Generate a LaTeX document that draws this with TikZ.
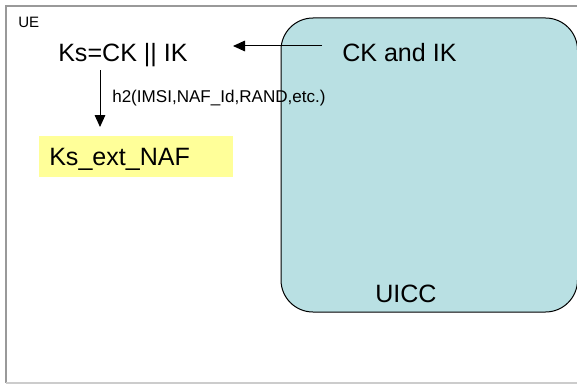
\documentclass[tikz,border=0pt]{standalone}
\usepackage{fontspec}
\setmainfont{Liberation Sans}
\usetikzlibrary{arrows.meta}
\definecolor{uiccblue}{RGB}{185,224,227}
\definecolor{keyyellow}{RGB}{255,255,153}
\tikzstyle{frame}=[draw=black!40,line width=1.1pt]
\tikzstyle{card}=[draw=black,fill=uiccblue,line width=0.75pt,rounded corners=24pt]
\tikzstyle{big}=[inner sep=0pt,font=\fontsize{18.8}{20}\selectfont]
\tikzstyle{small}=[inner sep=0pt,font=\fontsize{12.8}{14}\selectfont]
\tikzstyle{keybox}=[fill=keyyellow,inner xsep=7.5pt,inner ysep=0pt,text height=13.4pt,text depth=0pt,minimum height=30.75pt,text width=130.5pt,align=left,font=\fontsize{18.8}{20}\selectfont]
\tikzstyle{edge}=[draw,line width=0.75pt,-{Triangle[length=9pt,width=8pt]}]

\begin{document}
\begin{tikzpicture}[x=0.75pt,y=-0.75pt]
        \useasboundingbox (0,0) rectangle (577,385);
        % terminal frame
        \draw[frame] (577,6) -- (6,6) -- (6,383);
        \draw[draw=black!20,line width=1.1pt] (6,383) -- (577,383);
        \draw[card] (281,18) rectangle (577.5,312);
        \node[inner sep=0pt,anchor=base west,font=\fontsize{11.3}{13}\selectfont] (ue) at (18,28) {UE};
        \node[big,anchor=base west] (ks) at (58,61) {Ks=CK || IK};
        \node[big,anchor=base west] (ck) at (342,61) {CK and IK};
        \node[big,anchor=base west] (uicc) at (375,302) {UICC};
        \node[small,anchor=base west] (h2) at (112,102) {h2(IMSI,NAF\_Id,RAND,etc.)};
        \node[keybox,anchor=west] (ksext) at (39,156.5) {Ks\_ext\_NAF};
        \coordinate (ckout) at (322,46);
        \coordinate (ksin) at (233,46);
        \coordinate (ksout) at (100,70);
        \coordinate (extin) at (100,127);
        \draw[edge] (ckout) to (ksin);
        \draw[edge] (ksout) to (extin);
      \end{tikzpicture}
\end{document}
